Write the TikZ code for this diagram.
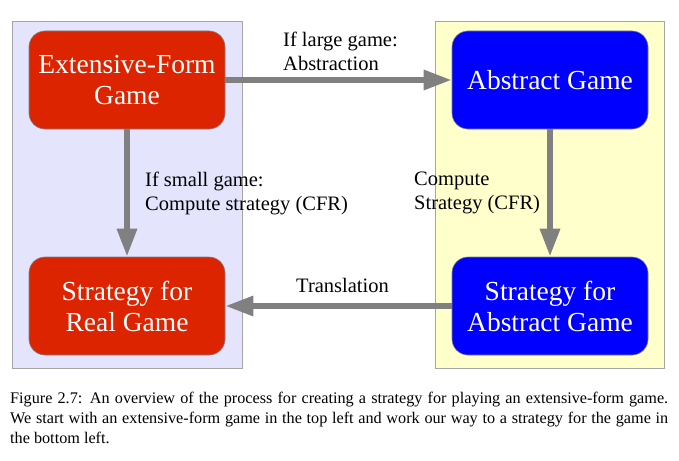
\documentclass[tikz,border=0pt]{standalone}
\usepackage{fontspec}
\setmainfont{Liberation Serif}
\usetikzlibrary{arrows.meta}
\definecolor{lavpanel}{RGB}{228,228,252}
\definecolor{yelpanel}{RGB}{255,255,204}
\definecolor{panelborder}{RGB}{165,165,165}
\definecolor{redbox}{RGB}{221,36,0}
\definecolor{bluebox}{RGB}{0,0,255}
\definecolor{arrowgray}{RGB}{128,128,128}
\tikzset{
  panel/.style={draw=panelborder, line width=0.8pt},
  gamebox/.style={draw=arrowgray, line width=0.6pt, rounded corners=16pt,
    minimum width=196pt, minimum height=98pt, inner sep=0pt, text=white,
    align=center, font=\fontsize{27.5}{31}\selectfont},
  redgame/.style={gamebox, fill=redbox},
  bluegame/.style={gamebox, fill=bluebox},
  flow/.style={draw=arrowgray, line width=6pt,
    -{Triangle[length=28pt,width=19pt]}, arrowgray},
  lbl/.style={inner sep=0pt, align=left, anchor=north west,
    font=\fontsize{20.5}{24}\selectfont},
  captiontext/.style={inner sep=0pt, anchor=base west, font=\fontsize{16.2}{20}\selectfont}
}
\begin{document}
\begin{tikzpicture}[x=1pt,y=-1pt]
\useasboundingbox[fill=white] (0,0) rectangle (679,460);
\path[panel, fill=lavpanel] (12,21) rectangle (242,368);
\path[panel, fill=yelpanel] (435,21) rectangle (664,368);
\node[redgame] (efg) at (127,80) {Extensive-Form\\Game};
\node[bluegame] (ag) at (550,80) {Abstract Game};
\node[redgame] (sr) at (127,306) {Strategy for\\Real Game};
\node[bluegame] (sa) at (550,306) {Strategy for\\Abstract Game};
\draw[flow] (efg.east) -- (ag.west);
\draw[flow] (efg.south) -- (sr.north);
\draw[flow] (ag.south) -- (sa.north);
\draw[flow] (sa.west) -- (sr.east);
\node[lbl] (l1) at (283,32) {If large game:\\Abstraction};
\node[lbl] (l2) at (145,172) {If small game:\\Compute strategy (CFR)};
\node[lbl] (l3) at (414,172) {Compute\\Strategy (CFR)};
\node[lbl] (l4) at (296,278) {Translation};
\node[captiontext] (c1) at (10,403) {\makebox[658pt][s]{Figure 2.7: An overview of the process for creating a strategy for playing an extensive-form game.}};
\node[captiontext] (c2) at (10,423) {\makebox[658pt][s]{We start with an extensive-form game in the top left and work our way to a strategy for the game in}};
\node[captiontext] (c3) at (10,443) {the bottom left.};
\end{tikzpicture}
\end{document}
